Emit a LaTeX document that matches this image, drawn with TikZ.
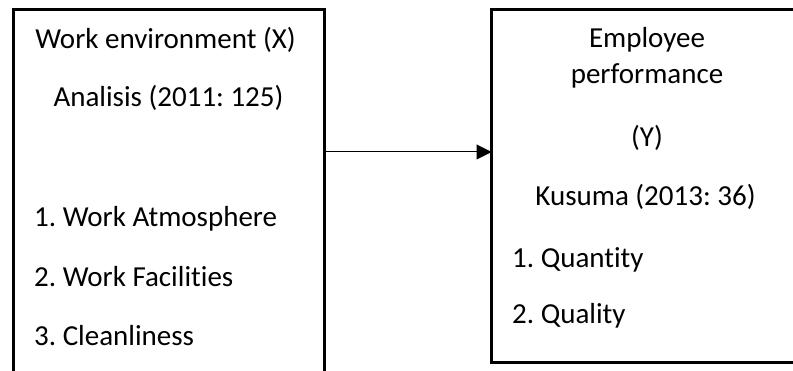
\documentclass[tikz,border=0pt]{standalone}
\usepackage{fontspec}
\setmainfont{Carlito}[Ligatures=NoCommon]
\usetikzlibrary{arrows.meta}
\begin{document}
\frenchspacing
\begin{tikzpicture}[x=1pt,y=-1pt,
  boxline/.style={draw=black,line width=3pt},
  box/.style={rectangle,inner sep=0pt,draw=none},
  txt/.style={anchor=base,inner sep=0pt,font=\fontsize{29}{33}\selectfont},
  ltxt/.style={txt,anchor=base west},
  conn/.style={draw=black,line width=1pt,-{Triangle[length=15pt,width=15pt]}}]
\useasboundingbox (0,0) rectangle (793,371);
\node[box,minimum width=310.5pt,minimum height=361.5pt,anchor=north west] (bx) at (13.5,9.5) {};
\node[box,minimum width=301.5pt,minimum height=353pt,anchor=north west] (by) at (491.5,9.5) {};
\draw[boxline] (bx.south west) -- (bx.north west) -- (bx.north east) -- (bx.south east);
\draw[boxline] (by.north east) -- (by.north west) -- (by.south west) -- (by.south east);
\coordinate (ay) at (0,152);
\draw[conn] (bx.east |- ay) -- (by.west |- ay);
% left texts
\node[txt] (x1) at (165.5,48.3) {Work environment (X)};
\node[txt] (x2) at (168.5,106.7) {Analisis (2011: 125)};
\node[ltxt] (x3) at (34,226.7) {1. Work Atmosphere};
\node[ltxt] (x4) at (34,286.7) {2. Work Facilities};
\node[ltxt] (x5) at (34,345.7) {3. Cleanliness};
% right texts
\node[txt] (y1) at (647,47.7) {Employee};
\node[txt] (y2) at (647,84) {performance};
\node[txt] (y3) at (647,146.7) {(Y)};
\node[txt] (y4) at (645.5,206) {Kusuma (2013: 36)};
\node[ltxt] (y5) at (512,267.3) {1. Quantity};
\node[ltxt] (y6) at (512,324) {2. Quality};
\end{tikzpicture}
\end{document}
